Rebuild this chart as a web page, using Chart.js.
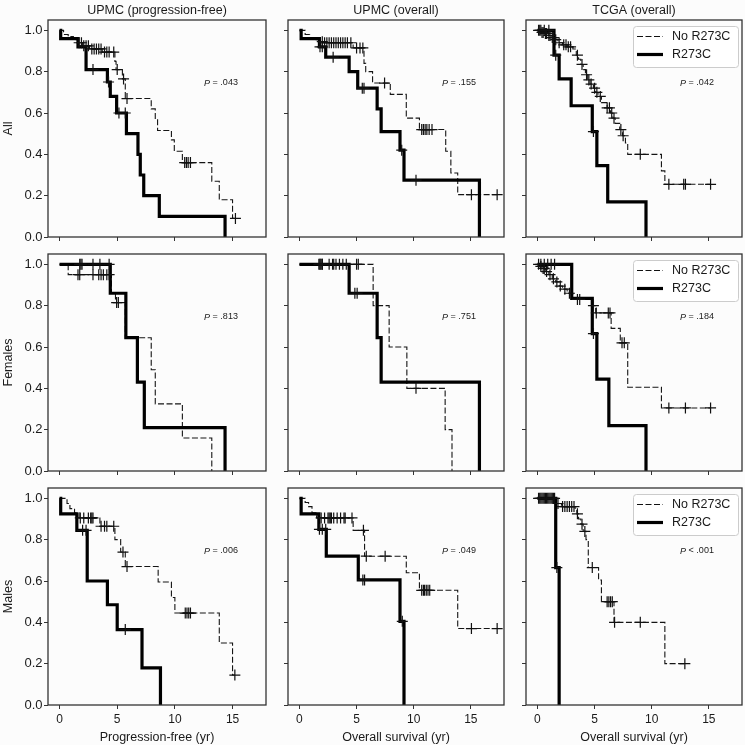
<!DOCTYPE html>
<html><head><meta charset="utf-8">
<script src="https://cdn.jsdelivr.net/npm/chart.js@4.4.1/dist/chart.umd.min.js"></script>
<style>
html,body{margin:0;padding:0;background:#fcfcfc;}
#wrap{position:relative;width:745px;height:745px;overflow:hidden;}
#wrap canvas{position:absolute;left:0;top:0;}
</style></head><body><div id="wrap"></div>
<script>
// ---------- DATA ----------
const xTicks = [0, 5, 10, 15];
const yTicks = [0, 0.2, 0.4, 0.6, 0.8, 1.0];
const columnTitles = ['UPMC (progression-free)', 'UPMC (overall)', 'TCGA (overall)'];
const rowLabels = ['All', 'Females', 'Males'];
const xAxisTitles = ['Progression-free (yr)', 'Overall survival (yr)', 'Overall survival (yr)'];
const seriesNames = ['No R273C', 'R273C'];
const pOperators = [['=', '=', '='], ['=', '=', '='], ['=', '=', '<']];
const pValues = [['.043', '.155', '.042'], ['.813', '.751', '.184'], ['.006', '.049', '.001']];

// Kaplan-Meier steps: [time (yr), survival after that time]; censor times
const allPfsNo = [[0,1],[0.35,0.98],[0.75,0.97],[1.2,0.955],[1.6,0.94],[2.0,0.925],[2.6,0.91],[3.7,0.895],[4.8,0.85],[4.9,0.81],[5.45,0.765],[5.7,0.67],[7.95,0.62],[8.3,0.57],[8.5,0.515],[9.7,0.47],[9.95,0.415],[10.65,0.36],[13.2,0.27],[13.85,0.18],[15.0,0.09],[15.25,0.09]];
const allPfsNoCens = [1.7,1.9,2.1,2.3,2.5,2.8,3.0,3.2,3.4,3.6,3.9,4.1,4.3,4.7,5.0,5.55,5.85,10.85,11.0,11.15,11.35,15.25];
const allPfsMut = [[0,1],[0.1,0.96],[1.6,0.92],[2.3,0.81],[4.15,0.75],[4.4,0.68],[4.95,0.60],[5.8,0.50],[6.8,0.40],[7.0,0.30],[7.3,0.20],[8.65,0.10],[14.35,0]];
const allPfsMutCens = [2.9,4.25,5.15,5.7];

const allOsNo = [[0,1],[0.5,0.98],[0.9,0.965],[1.3,0.955],[1.7,0.945],[2.1,0.94],[4.7,0.915],[5.65,0.84],[5.8,0.80],[6.4,0.745],[7.95,0.69],[9.35,0.575],[10.5,0.52],[12.8,0.415],[13.25,0.31],[13.85,0.205],[17.3,0.205]];
const allOsNoCens = [2.0,2.2,2.4,2.6,2.8,3.0,3.2,3.4,3.6,3.8,4.0,4.2,4.5,5.0,5.3,5.55,7.45,10.7,10.85,11.0,11.15,11.35,11.6,15.05,17.3];
const allOsMut = [[0,1],[0.15,0.96],[1.75,0.92],[2.3,0.87],[4.35,0.80],[5.1,0.72],[6.8,0.62],[7.15,0.51],[8.8,0.42],[9.15,0.275],[15.75,0]];
const allOsMutCens = [1.8,2.0,2.95,5.5,5.65,8.95,10.2];

const allTcgaNo = [[0,1],[0.3,0.99],[0.6,0.985],[0.9,0.975],[1.2,0.965],[1.5,0.955],[1.8,0.94],[2.2,0.93],[2.6,0.92],[3.1,0.91],[3.4,0.88],[3.6,0.86],[3.8,0.835],[4.0,0.81],[4.2,0.785],[4.4,0.76],[4.6,0.74],[4.9,0.72],[5.1,0.70],[5.3,0.68],[5.6,0.65],[6.1,0.625],[6.4,0.60],[6.6,0.575],[6.8,0.55],[7.2,0.52],[7.45,0.49],[7.7,0.455],[7.9,0.40],[10.85,0.32],[11.15,0.255],[15.15,0.255]];
const allTcgaNoCens = [0.1,0.2,0.4,0.5,0.7,0.8,1.0,1.1,1.3,1.4,1.6,1.9,2.3,2.5,2.7,2.9,3.5,3.9,4.3,4.5,4.7,5.0,5.2,5.5,6.1,6.3,6.5,6.7,7.3,7.5,9.0,11.5,12.8,12.95,15.15];
const allTcgaMut = [[0,1],[1.45,0.88],[1.9,0.765],[2.95,0.635],[4.8,0.51],[5.2,0.345],[6.15,0.17],[9.5,0]];
const allTcgaMutCens = [0.3,0.6,1.0,1.6,4.9];

const femPfsNo = [[0,1],[0.75,0.95],[4.5,0.86],[4.85,0.815],[5.7,0.645],[7.95,0.49],[8.3,0.325],[10.65,0.16],[13.2,0]];
const femPfsNoCens = [1.6,1.75,2.9,3.4,3.6,3.8,4.1,4.3,4.95,5.1];
const femPfsMut = [[0,1],[4.4,0.86],[5.75,0.645],[6.75,0.43],[7.35,0.21],[14.35,0]];
const femPfsMutCens = [1.75,1.85,1.95,2.9,3.5,4.3];

const femOsNo = [[0,1],[6.45,0.80],[7.85,0.60],[9.4,0.40],[12.75,0.20],[13.35,0]];
const femOsNoCens = [1.8,2.0,3.0,5.0,5.15,10.2];
const femOsMut = [[0,1],[4.35,0.86],[6.8,0.645],[7.15,0.43],[15.75,0]];
const femOsMutCens = [1.7,1.8,1.9,2.0,2.6,2.9,3.2,3.5,3.8,4.1,4.85,5.05];

const femTcgaNo = [[0,1],[0.2,0.99],[0.4,0.98],[0.7,0.965],[1.0,0.95],[1.3,0.93],[1.6,0.915],[1.9,0.895],[2.2,0.88],[2.6,0.86],[3.1,0.83],[4.85,0.80],[5.1,0.765],[6.45,0.69],[7.25,0.62],[7.9,0.405],[10.85,0.305],[15.15,0.305]];
const femTcgaNoCens = [0.1,0.3,0.5,0.6,0.8,1.1,1.4,1.7,2.0,2.4,2.8,3.5,3.7,4.9,5.15,6.2,6.35,7.4,7.6,11.5,12.95,15.15];
const femTcgaMut = [[0,1],[3.0,0.835],[4.8,0.665],[5.2,0.445],[6.25,0.22],[9.5,0]];
const femTcgaMutCens = [0.3,0.6,0.9,1.2,1.5,4.9];

const malePfsNo = [[0,1],[0.65,0.975],[0.9,0.95],[1.3,0.93],[1.7,0.905],[3.5,0.865],[4.8,0.80],[5.3,0.74],[5.7,0.67],[8.55,0.595],[9.7,0.52],[10.0,0.445],[13.85,0.30],[15.0,0.145],[15.2,0.145]];
const malePfsNoCens = [1.8,2.1,2.5,2.7,2.8,2.9,3.6,3.9,4.1,4.7,5.5,5.85,10.9,11.05,11.2,11.35,15.2];
const malePfsMut = [[0,1],[0.1,0.925],[1.5,0.845],[2.4,0.60],[4.15,0.485],[5.0,0.365],[7.15,0.18],[8.75,0]];
const malePfsMutCens = [2.0,2.3,5.7];

const maleOsNo = [[0,1],[0.5,0.98],[0.8,0.96],[1.1,0.93],[1.5,0.905],[4.7,0.845],[5.7,0.72],[9.35,0.64],[10.5,0.555],[13.85,0.37],[17.3,0.37]];
const maleOsNoCens = [1.9,2.2,2.5,2.6,2.7,2.8,3.0,3.3,3.6,3.9,4.0,4.6,5.6,5.85,7.5,10.7,10.85,10.95,11.1,11.25,11.4,15.05,17.3];
const maleOsMut = [[0,1],[0.15,0.925],[1.7,0.85],[2.35,0.72],[5.15,0.605],[8.8,0.405],[9.15,0]];
const maleOsMutCens = [1.75,2.0,2.3,5.55,5.7,9.0];

const maleTcgaNo = [[0,1],[1.55,0.975],[2.1,0.96],[3.3,0.94],[3.45,0.925],[3.6,0.90],[3.8,0.875],[4.0,0.84],[4.25,0.80],[4.45,0.665],[5.35,0.605],[5.6,0.50],[6.7,0.40],[11.15,0.20],[12.9,0.20]];
const maleTcgaNoCens = [0.1,0.3,0.5,0.7,0.9,1.1,1.3,1.5,1.8,2.2,2.4,2.6,2.8,3.0,3.2,3.5,3.9,4.15,4.8,6.1,6.25,6.4,6.55,6.75,9.0,12.9];
const maleTcgaMut = [[0,1],[1.6,0.665],[1.9,0]];
const maleTcgaMutCens = [0.2,0.4,0.6,0.8,1.0,1.2,1.4,1.7];

// panel grid [row][col] -> [noCurve, noCens, mutCurve, mutCens]
const panels = [
  [[allPfsNo, allPfsNoCens, allPfsMut, allPfsMutCens], [allOsNo, allOsNoCens, allOsMut, allOsMutCens], [allTcgaNo, allTcgaNoCens, allTcgaMut, allTcgaMutCens]],
  [[femPfsNo, femPfsNoCens, femPfsMut, femPfsMutCens], [femOsNo, femOsNoCens, femOsMut, femOsMutCens], [femTcgaNo, femTcgaNoCens, femTcgaMut, femTcgaMutCens]],
  [[malePfsNo, malePfsNoCens, malePfsMut, malePfsMutCens], [maleOsNo, maleOsNoCens, maleOsMut, maleOsMutCens], [maleTcgaNo, maleTcgaNoCens, maleTcgaMut, maleTcgaMutCens]]
];

// ---------- LAYOUT / STYLE ----------
const W = 745, H = 745;
const colLeft = [48, 288, 526], colRight = [266, 504, 742];
const rowTop = [20, 254, 488], rowBottom = [237, 471, 705];
const FONT = "'Liberation Sans', Arial, Helvetica, sans-serif";
const INK = '#1a1a1a', FRAME = '#333';

function survAt(curve, t) {
  let s = curve[0][1];
  for (const p of curve) { if (p[0] <= t) s = p[1]; else break; }
  return s;
}

const framePlugin = {
  id: 'frame',
  afterDraw(chart) {
    const a = chart.chartArea, ctx = chart.ctx;
    ctx.save(); ctx.strokeStyle = FRAME; ctx.lineWidth = 1.3;
    ctx.strokeRect(a.left, a.top, a.right - a.left, a.bottom - a.top);
    ctx.restore();
  }
};

const pPlugin = {
  id: 'pvalue',
  afterDraw(chart, args, opts) {
    const a = chart.chartArea, ctx = chart.ctx;
    ctx.save(); ctx.fillStyle = INK; ctx.textBaseline = 'middle';
    const rest = ' ' + opts.op + ' ' + opts.val;
    ctx.font = 'italic 9px ' + FONT; const w1 = ctx.measureText('P').width;
    ctx.font = '9px ' + FONT; const w2 = ctx.measureText(rest).width;
    const x0 = a.right - 45 - (w1 + w2) / 2, y = a.top + 63;
    ctx.font = 'italic 9px ' + FONT; ctx.fillText('P', x0, y);
    ctx.font = '9px ' + FONT; ctx.fillText(rest, x0 + w1, y);
    ctx.restore();
  }
};

const kmLegend = {
  id: 'kmLegend',
  afterDraw(chart, args, opts) {
    if (!opts.show) return;
    const a = chart.chartArea, ctx = chart.ctx;
    const bx = a.right - 109, by = a.top + 6, bw = 105, bh = 41;
    ctx.save();
    ctx.fillStyle = 'rgba(255,255,255,0.85)'; ctx.strokeStyle = '#cccccc'; ctx.lineWidth = 1;
    ctx.beginPath();
    if (ctx.roundRect) ctx.roundRect(bx + 0.5, by + 0.5, bw, bh, 3); else ctx.rect(bx + 0.5, by + 0.5, bw, bh);
    ctx.fill(); ctx.stroke();
    const ys = [by + 10.5, by + 28.5];
    ctx.strokeStyle = '#111'; ctx.lineWidth = 1.1; ctx.setLineDash([6, 2.5]);
    ctx.beginPath(); ctx.moveTo(bx + 4, ys[0]); ctx.lineTo(bx + 30, ys[0]); ctx.stroke();
    ctx.setLineDash([]); ctx.lineWidth = 3.2; ctx.strokeStyle = '#000';
    ctx.beginPath(); ctx.moveTo(bx + 4, ys[1]); ctx.lineTo(bx + 30, ys[1]); ctx.stroke();
    ctx.fillStyle = INK; ctx.font = '12.5px ' + FONT; ctx.textBaseline = 'middle';
    ctx.fillText(seriesNames[0], bx + 39, ys[0]);
    ctx.fillText(seriesNames[1], bx + 39, ys[1]);
    ctx.restore();
  }
};

const wrap = document.getElementById('wrap');

function makePanel(r, c) {
  const cv = document.createElement('canvas');
  cv.width = W; cv.height = H; cv.style.width = W + 'px'; cv.style.height = H + 'px';
  wrap.appendChild(cv);
  const L = colLeft[c], R = colRight[c], T = rowTop[r], B = rowBottom[r];
  const yW = c === 0 ? 48 : 6;
  const xH = r === 2 ? 40 : 6;
  const titleH = r === 0 ? 20 : 0;
  const [noCurve, noCens, mutCurve, mutCens] = panels[r][c];
  const toPts = arr => arr.map(p => ({ x: p[0], y: p[1] }));
  const crossDs = (times, curve, name) => ({
    label: name, data: times.map(t => ({ x: t, y: survAt(curve, t) })),
    showLine: false, pointStyle: 'cross', pointRadius: 5.5, pointBorderWidth: 1.2,
    pointBorderColor: '#111', pointBackgroundColor: '#111', borderColor: '#111'
  });
  new Chart(cv, {
    type: 'line',
    data: {
      datasets: [
        crossDs(mutCens, mutCurve, seriesNames[1] + ' censored'),
        crossDs(noCens, noCurve, seriesNames[0] + ' censored'),
        { label: seriesNames[1], data: toPts(mutCurve), stepped: true, borderColor: '#000', borderWidth: 3.2, pointRadius: 0, fill: false, borderCapStyle: 'butt', borderJoinStyle: 'miter' },
        { label: seriesNames[0], data: toPts(noCurve), stepped: true, borderColor: '#151515', borderWidth: 1.1, borderDash: [6, 2.5], pointRadius: 0, fill: false }
      ]
    },
    options: {
      responsive: false, animation: false, events: [],
      layout: { autoPadding: false, padding: { left: L - yW, top: T - titleH, right: W - R, bottom: H - B - xH } },
      plugins: {
        legend: { display: false }, tooltip: { enabled: false },
        title: { display: r === 0, text: columnTitles[c], fullSize: false, color: INK,
                 font: { family: FONT, size: 12.5, weight: 'normal', lineHeight: 1.2 }, padding: { top: 3, bottom: 2 } },
        pvalue: { op: pOperators[r][c], val: pValues[r][c] },
        kmLegend: { show: c === 2 }
      },
      scales: {
        x: {
          type: 'linear', min: -1, max: 17.9,
          afterBuildTicks: s => { s.ticks = xTicks.map(v => ({ value: v })); },
          afterFit: s => { s.height = xH; },
          grid: { drawOnChartArea: false, drawTicks: true, tickLength: 4, color: FRAME, lineWidth: 1 },
          border: { display: false },
          ticks: { display: r === 2, color: INK, font: { family: FONT, size: 12 }, padding: 3, maxRotation: 0, autoSkip: false },
          title: { display: r === 2, text: xAxisTitles[c], color: INK, font: { family: FONT, size: 12.5 }, padding: { top: 0, bottom: 0 } }
        },
        y: {
          type: 'linear', min: 0, max: 1.05,
          afterBuildTicks: s => { s.ticks = yTicks.map(v => ({ value: v })); },
          afterFit: s => { s.width = yW; },
          grid: { drawOnChartArea: false, drawTicks: true, tickLength: 4, color: FRAME, lineWidth: 1 },
          border: { display: false },
          ticks: { display: c === 0, color: INK, font: { family: FONT, size: 13 }, padding: 1.5, callback: v => Number(v).toFixed(1) },
          title: { display: c === 0, text: rowLabels[r], color: INK, font: { family: FONT, size: 12.5 }, padding: { top: 1, bottom: 0 } }
        }
      }
    },
    plugins: [framePlugin, pPlugin, kmLegend]
  });
}

for (let r = 0; r < 3; r++) for (let c = 0; c < 3; c++) makePanel(r, c);
</script>
</body></html>
